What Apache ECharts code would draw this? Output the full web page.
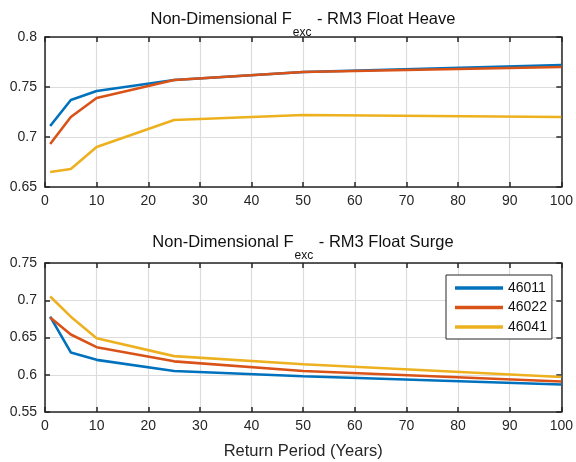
<!DOCTYPE html>
<html><head><meta charset="utf-8">
<script src="https://cdn.jsdelivr.net/npm/echarts@6/dist/echarts.min.js"></script>
<style>html,body{margin:0;padding:0;background:#fff}#c{width:576px;height:462px}</style>
</head><body><div id="c"></div>
<script>
const returnPeriods = [1, 5, 10, 25, 50, 100];
const stations = ['46011', '46022', '46041'];
const heave46011 = [0.711, 0.737, 0.746, 0.757, 0.765, 0.772];
const heave46022 = [0.693, 0.720, 0.739, 0.757, 0.765, 0.770];
const heave46041 = [0.665, 0.668, 0.690, 0.717, 0.722, 0.720];
const surge46011 = [0.678, 0.630, 0.620, 0.605, 0.598, 0.587];
const surge46022 = [0.677, 0.654, 0.637, 0.618, 0.605, 0.591];
const surge46041 = [0.705, 0.678, 0.649, 0.625, 0.614, 0.597];
const colors = ['#0072BD', '#D95319', '#EDB120'];
const FONT = 'Liberation Sans, Arial, sans-serif';

const chart = echarts.init(document.getElementById('c'));
function pairs(ys){ return returnPeriods.map((x,i)=>[x, ys[i]]); }
const axisCol = '#262626';
function xAx(grid, showLabels, name){
  return [{
    type:'value', gridIndex:grid, min:0, max:100, interval:10, position:'bottom',
    axisLine:{show:true,onZero:false,lineStyle:{color:axisCol,width:1.5}},
    axisTick:{show:true,inside:true,length:5,lineStyle:{color:axisCol,width:1.5}},
    axisLabel:{show:showLabels,color:axisCol,fontFamily:FONT,fontSize:14,margin:7},
    splitLine:{show:true,lineStyle:{color:'#dcdcdc',width:1.2}},
    name:name||'', nameLocation:'middle', nameGap:31,
    nameTextStyle:{color:axisCol,fontFamily:FONT,fontSize:16.5}
  },{
    type:'value', gridIndex:grid, min:0, max:100, interval:10, position:'top',
    axisLine:{show:true,onZero:false,lineStyle:{color:axisCol,width:1.5}},
    axisTick:{show:true,inside:true,length:5,lineStyle:{color:axisCol,width:1.5}},
    axisLabel:{show:false}, splitLine:{show:false}
  }];
}
function yAx(grid, min, max, interval){
  return [{
    type:'value', gridIndex:grid, min:min, max:max, interval:interval, position:'left',
    axisLine:{show:true,onZero:false,lineStyle:{color:axisCol,width:1.5}},
    axisTick:{show:true,inside:true,length:5,lineStyle:{color:axisCol,width:1.5}},
    axisLabel:{color:axisCol,fontFamily:FONT,fontSize:14,margin:8,formatter:v=>String(+v.toFixed(2))},
    splitLine:{show:true,lineStyle:{color:'#dcdcdc',width:1.2}}
  },{
    type:'value', gridIndex:grid, min:min, max:max, interval:interval, position:'right',
    axisLine:{show:true,onZero:false,lineStyle:{color:axisCol,width:1.5}},
    axisTick:{show:true,inside:true,length:5,lineStyle:{color:axisCol,width:1.5}},
    axisLabel:{show:false}, splitLine:{show:false}
  }];
}
function line(name, data, xi, yi, ci){
  return {name:name, type:'line', data:pairs(data), xAxisIndex:xi, yAxisIndex:yi,
    showSymbol:false, symbol:'none', lineStyle:{width:2.6,color:colors[ci]}, itemStyle:{color:colors[ci]}, z:5};
}
const richTitle = {
  a:{fontFamily:FONT,fontSize:16.5,fontWeight:'normal',color:'#111',lineHeight:21,verticalAlign:'top'},
  s:{fontFamily:FONT,fontSize:12,fontWeight:'normal',color:'#111',lineHeight:14,verticalAlign:'top',padding:[16,1,0,1]}
};
chart.setOption({
  animation:false,
  color:colors,
  title:[
    {text:'{a|Non-Dimensional F}{s|exc}{a| - RM3 Float Heave}', left:303, top:11, textAlign:'center', padding:0, textStyle:{fontWeight:'normal',rich:richTitle}},
    {text:'{a|Non-Dimensional F}{s|exc}{a| - RM3 Float Surge}', left:303, top:234, textAlign:'center', padding:0, textStyle:{fontWeight:'normal',rich:richTitle}}
  ],
  legend:{
    data:stations, orient:'vertical', left:446, top:275,
    backgroundColor:'#fff', borderColor:axisCol, borderWidth:1, borderRadius:0,
    padding:[5,5,4,9], itemGap:3.5, itemWidth:48, itemHeight:3.5, icon:'rect',
    textStyle:{fontFamily:FONT,fontSize:14,color:'#111',lineHeight:16}
  },
  grid:[
    {left:45, top:37, width:519, height:150},
    {left:45, top:263, width:519, height:149}
  ],
  xAxis:[...xAx(0,true), ...xAx(1,true,'Return Period (Years)')],
  yAxis:[...yAx(0,0.65,0.8,0.05), ...yAx(1,0.55,0.75,0.05)],
  series:[
    line(stations[0], heave46011, 0, 0, 0),
    line(stations[1], heave46022, 0, 0, 1),
    line(stations[2], heave46041, 0, 0, 2),
    line(stations[0], surge46011, 2, 2, 0),
    line(stations[1], surge46022, 2, 2, 1),
    line(stations[2], surge46041, 2, 2, 2)
  ]
});
</script></body></html>
